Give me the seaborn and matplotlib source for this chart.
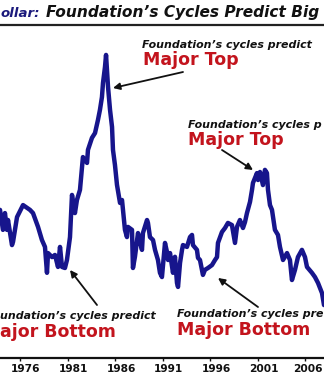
import matplotlib
matplotlib.use("Agg")
import matplotlib.pyplot as plt
import matplotlib.transforms as mtransforms
from matplotlib.lines import Line2D
import pandas as pd
import seaborn as sns

# ---- data ----
years = [1973.90, 1974.21, 1974.42, 1974.63, 1974.74, 1975.16, 1975.27, 1975.69, 1976.32, 1977.05,
         1977.37, 1977.90, 1978.31, 1978.63, 1978.84, 1978.95, 1979.37, 1979.68, 1980.00, 1980.21,
         1980.42, 1980.73, 1980.94, 1981.26, 1981.47, 1981.78, 1981.99, 1982.31, 1982.62, 1983.05,
         1983.15, 1983.57, 1983.89, 1984.20, 1984.41, 1984.62, 1984.73, 1984.94, 1985.05, 1985.26,
         1985.47, 1985.68, 1985.78, 1985.99, 1986.20, 1986.52, 1986.73, 1987.04, 1987.25, 1987.36,
         1987.78, 1987.88, 1988.09, 1988.41, 1988.62, 1988.83, 1988.93, 1989.36, 1989.46, 1989.67,
         1989.99, 1990.20, 1990.51, 1990.72, 1990.93, 1991.25, 1991.46, 1991.57, 1991.78, 1991.99,
         1992.09, 1992.30, 1992.51, 1992.62, 1992.83, 1993.04, 1993.14, 1993.56, 1993.88, 1994.09,
         1994.19, 1994.61, 1994.72, 1994.93, 1995.14, 1995.24, 1995.45, 1995.77, 1996.19, 1996.51,
         1996.72, 1996.82, 1997.24, 1997.56, 1997.87, 1998.29, 1998.61, 1998.82, 1999.13, 1999.45,
         1999.66, 1999.87, 2000.19, 2000.40, 2000.50, 2000.92, 2001.03, 2001.24, 2001.55, 2001.76,
         2001.97, 2002.08, 2002.29, 2002.50, 2002.81, 2003.13, 2003.34, 2003.66, 2004.08, 2004.39,
         2004.60, 2004.92, 2005.23, 2005.65, 2005.97, 2006.18, 2006.70, 2007.02, 2007.34, 2007.76,
         2007.97]
dollar_index = [106.6, 99.1, 105.4, 99.1, 102.8, 93.4, 94.6, 103.9, 108.4, 106.6,
                105.4, 100.2, 95.3, 92.7, 83.0, 90.4, 88.9, 89.7, 85.2, 92.7,
                85.2, 84.8, 87.8, 96.4, 112.2, 105.4, 110.3, 114.1, 126.4, 124.2,
                129.1, 133.6, 135.4, 140.3, 144.1, 148.9, 154.2, 160.2, 164.7, 152.7,
                144.1, 137.7, 129.1, 123.4, 116.0, 109.2, 110.3, 99.1, 96.4, 100.2,
                99.1, 84.8, 89.0, 97.9, 94.6, 91.6, 97.9, 102.8, 101.7, 96.4,
                95.3, 91.6, 87.8, 83.0, 81.4, 94.2, 90.8, 87.8, 90.4, 85.2,
                83.0, 89.0, 79.2, 77.7, 86.7, 91.6, 93.4, 92.7, 96.4, 97.2,
                93.4, 91.6, 88.6, 87.8, 84.1, 82.2, 84.1, 84.8, 85.9, 87.8,
                88.9, 94.2, 98.3, 99.8, 101.7, 100.9, 94.2, 100.2, 102.8, 99.8,
                102.0, 105.4, 109.6, 114.1, 116.7, 120.4, 117.8, 120.8, 115.9, 121.6,
                120.4, 114.1, 108.4, 106.6, 99.1, 97.2, 92.7, 87.8, 90.4, 87.8,
                80.3, 84.1, 88.9, 91.6, 88.9, 85.2, 83.0, 81.4, 79.2, 75.4,
                70.9]
tick_years = [1976, 1981, 1986, 1991, 1996, 2001, 2006]
title_lead = "ollar:"
title_rest = "Foundation\u2019s Cycles Predict Big"
# texts as visible in the (cropped) picture
small_notes = ["Foundation\u2019s cycles predict", "Foundation\u2019s cycles p",
               "undation\u2019s cycles predict", "Foundation\u2019s cycles pre"]
big_notes = ["Major Top", "Major Top", "ajor Bottom", "Major Bottom"]

# ---- style ----
sns.set_style("white")
plt.rcParams["font.family"] = ["DejaVu Sans"]

W, H = 324, 377
LINE_COLOR = "#17158c"
RED = "#c3141d"
NAVY = "#1b1a7c"


def fxy(px, py):
    return (px / W, 1 - py / H)


fig = plt.figure(figsize=(W / 100, H / 100), dpi=100)
fig.patch.set_facecolor("white")
ax = fig.add_axes([0, 1 - 358 / H, 1, (358 - 30) / H])

df = pd.DataFrame({"year": years, "index": dollar_index})
sns.lineplot(data=df, x="year", y="index", ax=ax, color=LINE_COLOR,
             lw=3.2, estimator=None, sort=False, solid_joinstyle="round")

ax.set_xlim(1973.90, 2007.97)
ax.set_ylim(51.05, 174.05)
ax.set_xlabel("")
ax.set_ylabel("")
ax.set_yticks([])
for s in ["left", "top", "right"]:
    ax.spines[s].set_visible(False)
ax.spines["bottom"].set_linewidth(1.6)
ax.spines["bottom"].set_color("#111111")
ax.set_xticks(tick_years)
ax.set_xticklabels([str(y) for y in tick_years], fontsize=7.7, fontweight="bold", color="#111111")
ax.tick_params(axis="x", bottom=True, length=2.5, width=1, pad=1.5, color="#111111")
labels = ax.get_xticklabels()
for i, lab in enumerate(labels):
    dx = 6 if i < len(labels) - 1 else 3
    off = mtransforms.ScaledTranslation(dx / 100, 0, fig.dpi_scale_trans)
    lab.set_transform(lab.get_transform() + off)

# ---- title ----
fig.text(*fxy(0.5, 17), title_lead, ha="left", va="baseline", fontsize=9.6,
         fontweight="bold", fontstyle="italic", color=NAVY)
fig.text(*fxy(46, 17), title_rest, ha="left", va="baseline", fontsize=11.1,
         fontweight="bold", fontstyle="italic", color="#111111")
fig.add_artist(Line2D([0, 1], [1 - 25 / H] * 2, transform=fig.transFigure,
                      color="#222222", lw=1.6))

# ---- annotations ----
layout = [
    # small text (x, baseline), big text (x, baseline), arrow tail, arrow tip
    ((142, 48.5), (143, 65), (183, 72), (113, 88)),
    ((188, 128.3), (188, 145), (222, 150), (253, 170)),
    ((0.5, 319.3), (0.5, 336.7), (97, 305), (70, 270)),
    ((177, 316.7), (177, 335), (258, 307), (218, 278)),
]
for small, big, ((sx, sy), (bx, by), tail, tip) in zip(small_notes, big_notes, layout):
    fig.text(*fxy(sx, sy), small, ha="left", va="baseline", fontsize=7.9,
             fontweight="bold", fontstyle="italic", color="#111111")
    fig.text(*fxy(bx, by), big, ha="left", va="baseline", fontsize=12.5,
             fontweight="bold", color=RED)
    ax.annotate("", xy=fxy(*tip), xytext=fxy(*tail), xycoords="figure fraction",
                textcoords="figure fraction",
                arrowprops=dict(arrowstyle="-|>", color="#111111", lw=1.3,
                                mutation_scale=10, shrinkA=0, shrinkB=0))

fig.savefig("out.png", dpi=100)
